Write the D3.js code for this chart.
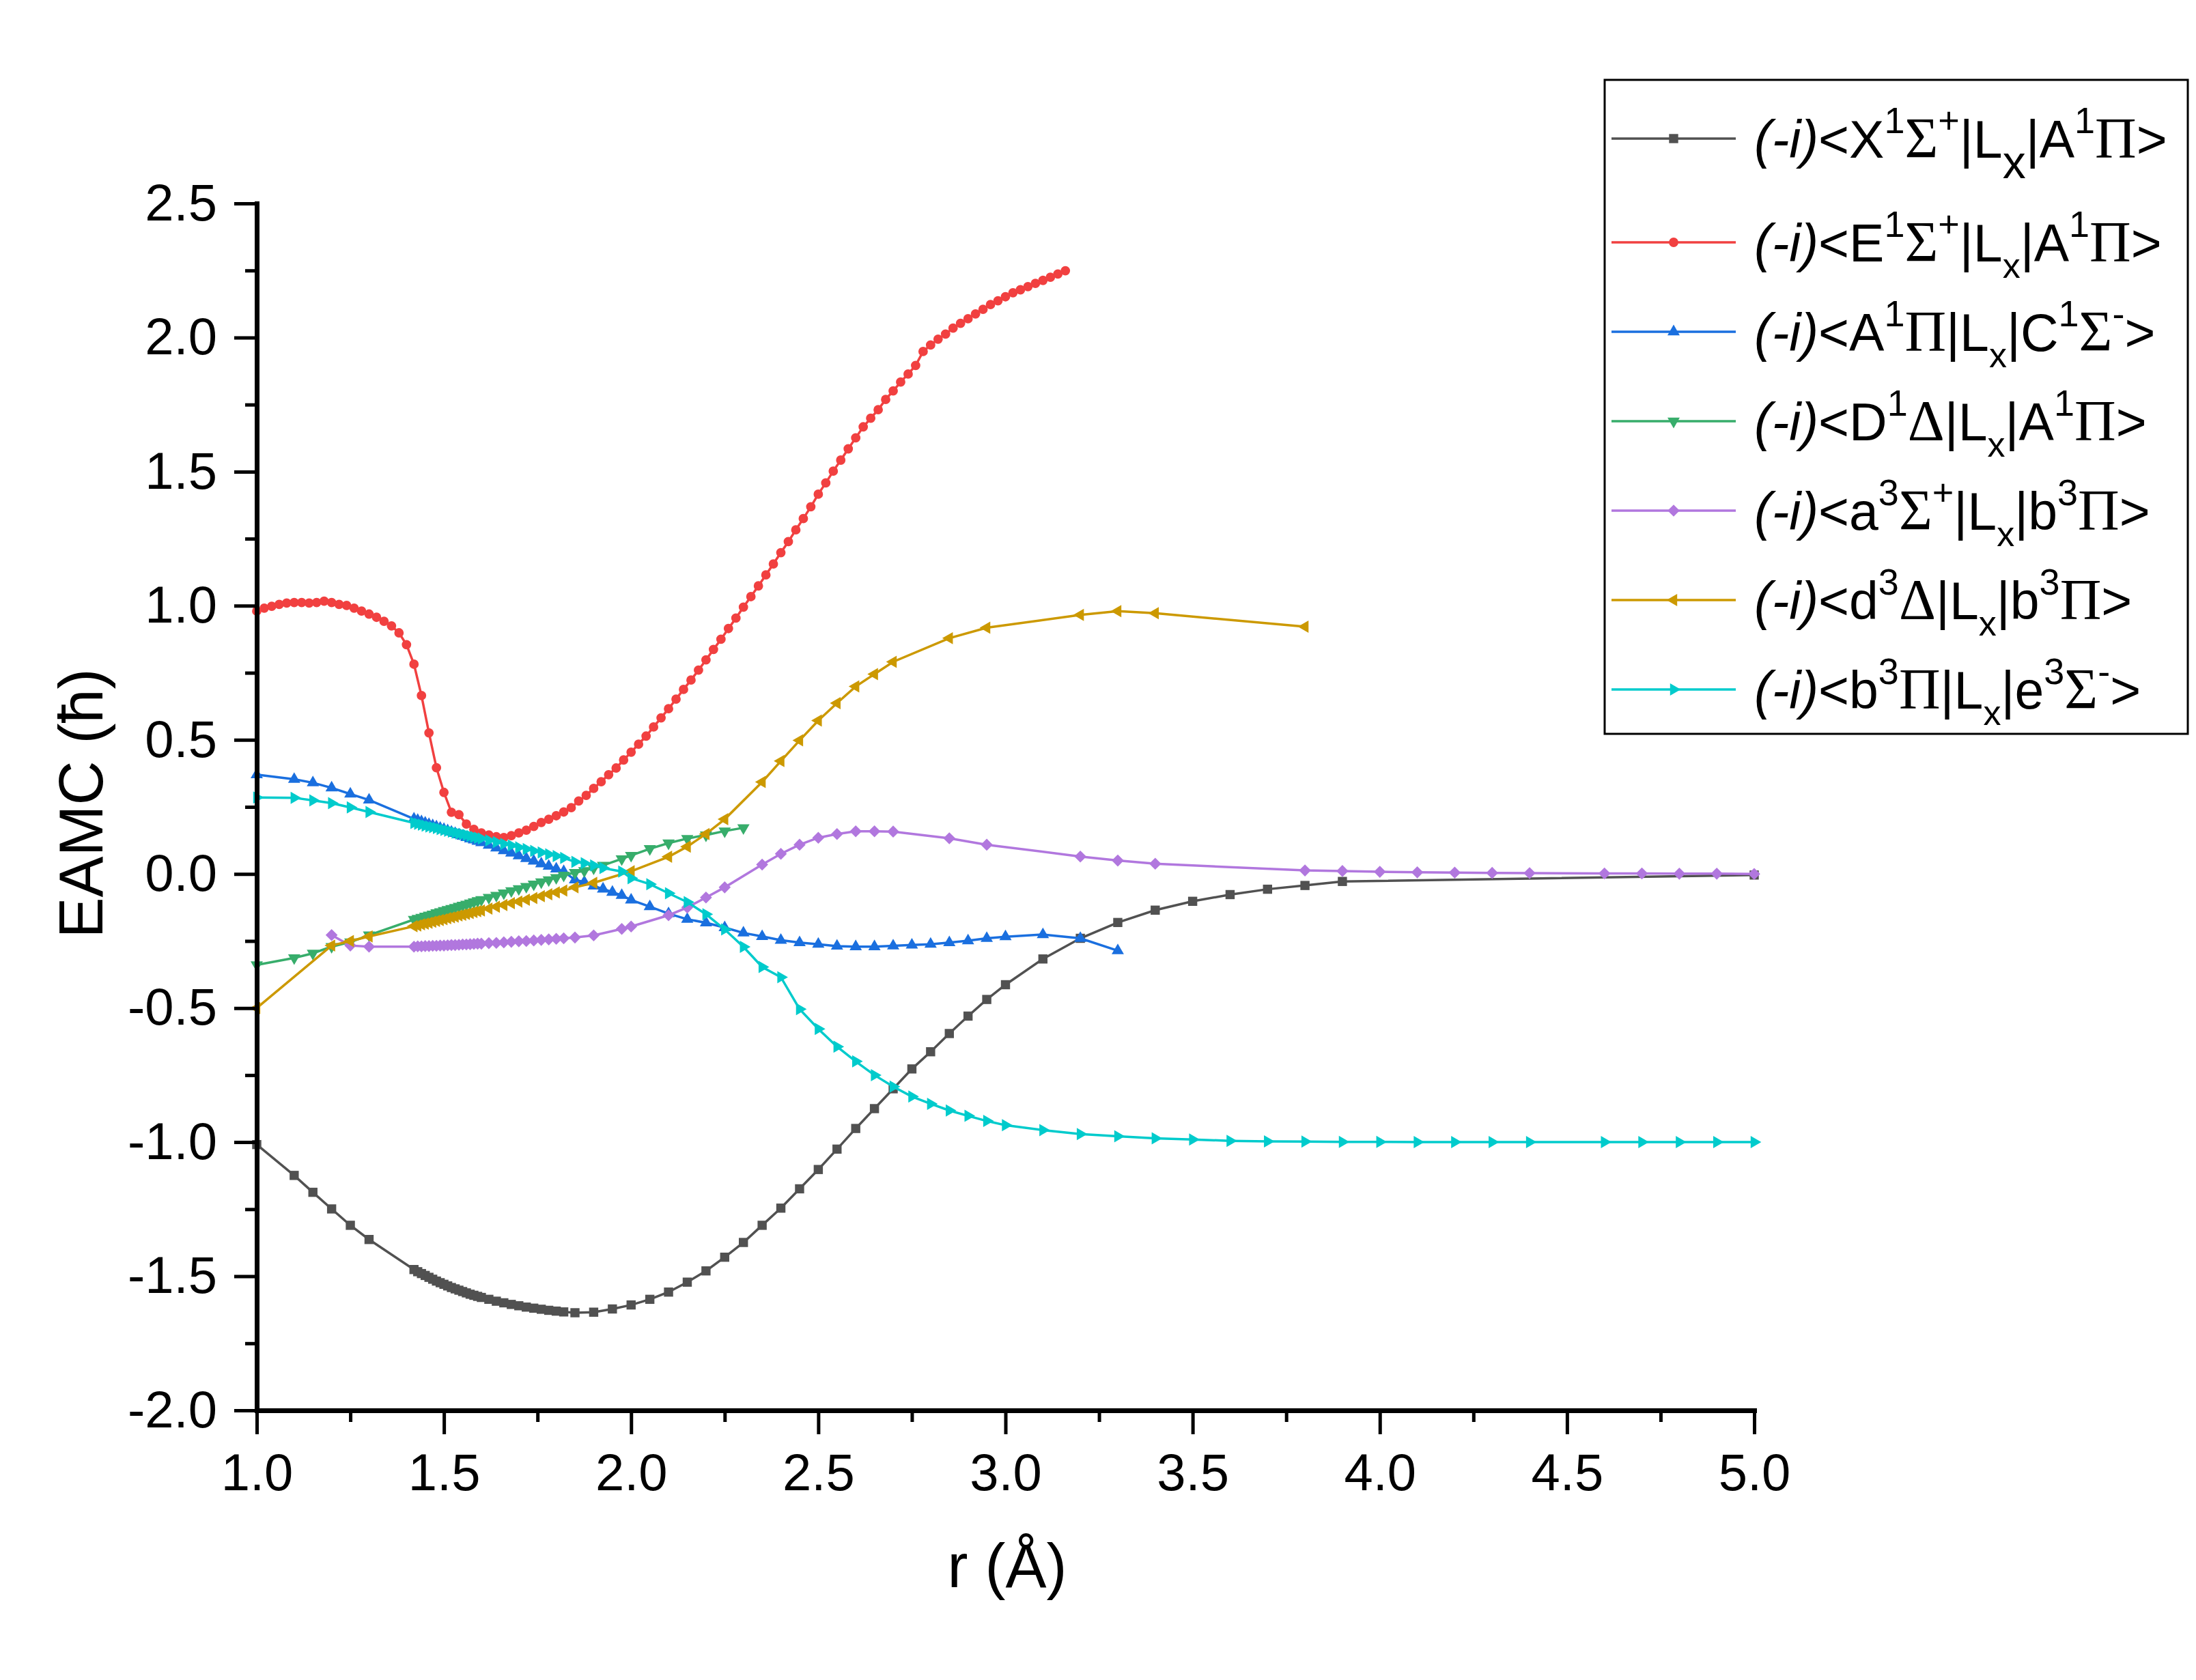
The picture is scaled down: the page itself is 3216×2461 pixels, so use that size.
<!DOCTYPE html>
<html>
<head>
<meta charset="utf-8">
<script src="https://cdn.jsdelivr.net/npm/d3@7"></script>
<style>
  body { margin: 0; background: #fff; }
  text { font-family: "Liberation Sans", Arial, sans-serif; }
</style>
</head>
<body>
<div id="chart"></div>
<script>
// ---- data (r in Angstrom, EAMC in hbar) ----

// common fine grid used by most curves around the crossing region
const rDense = [1.42, 1.43, 1.44, 1.45, 1.46, 1.47, 1.48, 1.49, 1.50, 1.51, 1.52, 1.53, 1.54, 1.55, 1.56,
  1.57, 1.58, 1.59, 1.60, 1.62, 1.64, 1.66, 1.68, 1.70, 1.72, 1.74, 1.76, 1.78, 1.80, 1.82];

// (-i)<X1S+|Lx|A1P>
const rX = [1.0, 1.1, 1.15, 1.2, 1.25, 1.3, ...rDense,
  1.85, 1.90, 1.95, 2.0, 2.05, 2.1, 2.15, 2.2, 2.25, 2.3, 2.35, 2.4, 2.45, 2.5, 2.55, 2.6, 2.65, 2.7, 2.75, 2.8,
  2.85, 2.9, 2.95, 3.0, 3.1, 3.2, 3.3, 3.4, 3.5, 3.6, 3.7, 3.8, 3.9, 5.0];
const vX = [-1.009, -1.124, -1.187, -1.249, -1.310, -1.363,
  -1.475, -1.483, -1.490, -1.497, -1.504, -1.511, -1.518, -1.524, -1.530, -1.536, -1.542, -1.547, -1.552, -1.557,
  -1.562, -1.567, -1.571, -1.575, -1.579, -1.586, -1.593, -1.599, -1.605, -1.610, -1.615, -1.619, -1.623, -1.627,
  -1.630, -1.633,
  -1.636, -1.634, -1.622, -1.607, -1.586, -1.559, -1.522, -1.480, -1.429, -1.374, -1.310, -1.246, -1.174, -1.102,
  -1.026, -0.949, -0.875, -0.801, -0.727, -0.663, -0.595, -0.530, -0.468, -0.413,
  -0.317, -0.240, -0.181, -0.135, -0.102, -0.077, -0.057, -0.043, -0.028, -0.004];

// (-i)<E1S+|Lx|A1P>
const rE = [1.00, 1.02, 1.04, 1.06, 1.08, 1.10, 1.12, 1.14, 1.16, 1.18,
  1.20, 1.22, 1.24, 1.26, 1.28, 1.30, 1.32, 1.34, 1.36, 1.38,
  1.40, 1.42, 1.44, 1.46, 1.48, 1.50, 1.52, 1.54, 1.56, 1.58,
  1.60, 1.62, 1.64, 1.66, 1.68, 1.70, 1.72, 1.74, 1.76, 1.78,
  1.80, 1.82, 1.84, 1.86, 1.88, 1.90, 1.92, 1.94, 1.96, 1.98,
  2.00, 2.02, 2.04, 2.06, 2.08, 2.10, 2.12, 2.14, 2.16, 2.18,
  2.20, 2.22, 2.24, 2.26, 2.28, 2.30, 2.32, 2.34, 2.36, 2.38,
  2.40, 2.42, 2.44, 2.46, 2.48, 2.50, 2.52, 2.54, 2.56, 2.58,
  2.60, 2.62, 2.64, 2.66, 2.68, 2.70, 2.72, 2.74, 2.76, 2.78,
  2.80, 2.82, 2.84, 2.86, 2.88, 2.90, 2.92, 2.94, 2.96, 2.98,
  3.00, 3.02, 3.04, 3.06, 3.08, 3.10, 3.12, 3.14, 3.16];
const vE = [0.980, 0.991, 0.998, 1.005, 1.010, 1.012, 1.012, 1.010, 1.012, 1.017,
  1.012, 1.005, 1.001, 0.991, 0.980, 0.969, 0.957, 0.942, 0.925, 0.899,
  0.855, 0.782, 0.665, 0.526, 0.396, 0.304, 0.230, 0.221, 0.186, 0.166,
  0.153, 0.145, 0.139, 0.136, 0.143, 0.153, 0.163, 0.177, 0.192, 0.204,
  0.217, 0.231, 0.247, 0.272, 0.293, 0.319, 0.344, 0.370, 0.395, 0.425,
  0.454, 0.484, 0.514, 0.548, 0.582, 0.616, 0.652, 0.688, 0.723, 0.760,
  0.798, 0.837, 0.875, 0.915, 0.954, 0.995, 1.034, 1.074, 1.115, 1.156,
  1.198, 1.239, 1.283, 1.325, 1.369, 1.416, 1.458, 1.502, 1.543, 1.585,
  1.626, 1.667, 1.699, 1.731, 1.769, 1.801, 1.834, 1.864, 1.896, 1.948,
  1.972, 1.994, 2.013, 2.035, 2.053, 2.070, 2.088, 2.105, 2.123, 2.137,
  2.152, 2.167, 2.178, 2.190, 2.202, 2.213, 2.225, 2.237, 2.249];

// (-i)<A1P|Lx|C1S->
const rAC = [1.0, 1.1, 1.15, 1.2, 1.25, 1.3, ...rDense,
  1.85, 1.875, 1.90, 1.925, 1.95, 1.975, 2.0, 2.05, 2.1, 2.15, 2.2, 2.25, 2.3, 2.35, 2.4, 2.45, 2.5, 2.55,
  2.6, 2.65, 2.7, 2.75, 2.8, 2.85, 2.9, 2.95, 3.0, 3.1, 3.2, 3.3];
const vAC = [0.370, 0.353, 0.340, 0.321, 0.298, 0.276,
  0.205, 0.200, 0.195, 0.190, 0.185, 0.180, 0.176, 0.171, 0.166, 0.161, 0.156, 0.151, 0.146, 0.141,
  0.136, 0.131, 0.127, 0.122, 0.117, 0.107, 0.097, 0.087, 0.078, 0.068, 0.058, 0.048, 0.038, 0.029,
  0.019, 0.009,
  -0.022, -0.030, -0.045, -0.056, -0.068, -0.080, -0.097, -0.122, -0.148, -0.169, -0.182, -0.200, -0.220,
  -0.233, -0.247, -0.256, -0.262, -0.269, -0.271, -0.271, -0.268, -0.265, -0.262, -0.256, -0.249, -0.240,
  -0.234, -0.226, -0.240, -0.286];

// (-i)<D1D|Lx|A1P>
const rDA = [1.0, 1.1, 1.15, 1.2, 1.25, 1.3, ...rDense,
  1.85, 1.875, 1.90, 1.925, 1.975, 2.0, 2.05, 2.1, 2.15, 2.2, 2.25, 2.3];
const vDA = [-0.339, -0.313, -0.296, -0.271, -0.254, -0.228,
  -0.170, -0.166, -0.162, -0.158, -0.154, -0.150, -0.145, -0.141, -0.137, -0.133, -0.129, -0.125, -0.121,
  -0.117, -0.113, -0.109, -0.104, -0.100, -0.096, -0.088, -0.080, -0.071, -0.063, -0.055, -0.047, -0.038,
  -0.030, -0.022, -0.014, -0.005,
  0.005, 0.012, 0.022, 0.032, 0.056, 0.069, 0.094, 0.115, 0.132, 0.145, 0.160, 0.172];

// (-i)<a3S+|Lx|b3P>
const rab = [1.2, 1.25, 1.3, ...rDense,
  1.85, 1.90, 1.975, 2.0, 2.1, 2.15, 2.2, 2.25, 2.35, 2.4, 2.45, 2.5, 2.55, 2.6, 2.65, 2.7,
  2.85, 2.95, 3.2, 3.3, 3.4, 3.8, 3.9, 4.0, 4.1, 4.2, 4.3, 4.4, 4.6, 4.7, 4.8, 4.9, 5.0];
const vab = [-0.228, -0.267, -0.271,
  -0.271, -0.270, -0.270, -0.269, -0.269, -0.268, -0.268, -0.267, -0.267, -0.266, -0.265, -0.265, -0.264,
  -0.263, -0.263, -0.262, -0.261, -0.260, -0.260, -0.258, -0.257, -0.255, -0.253, -0.251, -0.250, -0.248,
  -0.246, -0.244, -0.242, -0.240,
  -0.237, -0.229, -0.205, -0.196, -0.154, -0.125, -0.088, -0.050, 0.035, 0.075, 0.109, 0.135, 0.149, 0.159,
  0.159, 0.158, 0.133, 0.109, 0.065, 0.050, 0.038, 0.013, 0.011, 0.008, 0.006, 0.005, 0.004, 0.003,
  0.002, 0.002, 0.001, 0.001, 0.000];

// (-i)<d3D|Lx|b3P>
const rdb = [1.0, 1.2, 1.25, 1.3, ...rDense,
  1.85, 1.90, 2.0, 2.1, 2.15, 2.2, 2.25, 2.35, 2.4, 2.45, 2.5, 2.55, 2.6, 2.65, 2.7, 2.85, 2.95, 3.2, 3.3, 3.4, 3.8];
const vdb = [-0.500, -0.267, -0.250, -0.233,
  -0.195, -0.192, -0.188, -0.185, -0.182, -0.178, -0.175, -0.172, -0.169, -0.165, -0.162, -0.159, -0.155,
  -0.152, -0.149, -0.146, -0.142, -0.139, -0.136, -0.129, -0.122, -0.116, -0.109, -0.103, -0.096, -0.090,
  -0.083, -0.076, -0.069, -0.062,
  -0.050, -0.033, 0.010, 0.064, 0.102, 0.149, 0.204, 0.343, 0.421, 0.498, 0.572, 0.637, 0.699, 0.745,
  0.791, 0.879, 0.918, 0.966, 0.980, 0.972, 0.922];

// (-i)<b3P|Lx|e3S->
const rbe = [1.0, 1.1, 1.15, 1.2, 1.25, 1.3, ...rDense,
  1.85, 1.875, 1.90, 1.925, 1.975, 2.0, 2.05, 2.1, 2.15, 2.2, 2.25, 2.3, 2.35, 2.4, 2.45, 2.5, 2.55, 2.6,
  2.65, 2.7, 2.75, 2.8, 2.85, 2.9, 2.95, 3.0, 3.1, 3.2, 3.3, 3.4, 3.5, 3.6, 3.7, 3.8, 3.9, 4.0, 4.1, 4.2,
  4.3, 4.4, 4.6, 4.7, 4.8, 4.9, 5.0];
const vbe = [0.285, 0.284, 0.274, 0.264, 0.248, 0.231,
  0.190, 0.187, 0.184, 0.180, 0.177, 0.174, 0.171, 0.167, 0.164, 0.161, 0.158, 0.154, 0.151, 0.148,
  0.145, 0.141, 0.138, 0.135, 0.132, 0.125, 0.119, 0.112, 0.106, 0.099, 0.093, 0.086, 0.080, 0.073,
  0.067, 0.060,
  0.045, 0.040, 0.032, 0.022, 0.009, -0.016, -0.038, -0.072, -0.105, -0.150, -0.207, -0.272, -0.347,
  -0.385, -0.504, -0.578, -0.644, -0.699, -0.750, -0.793, -0.830, -0.857, -0.882, -0.902, -0.921, -0.937,
  -0.955, -0.970, -0.978, -0.986, -0.990, -0.995, -0.997, -0.998, -0.999, -0.999, -1.000, -1.000, -1.000,
  -1.000, -1.000, -1.000, -1.000, -1.000, -1.000];

// axis ticks
const xMajor = [1.0, 1.5, 2.0, 2.5, 3.0, 3.5, 4.0, 4.5, 5.0];
const xMinor = [1.25, 1.75, 2.25, 2.75, 3.25, 3.75, 4.25, 4.75];
const yMajor = [-2.0, -1.5, -1.0, -0.5, 0.0, 0.5, 1.0, 1.5, 2.0, 2.5];
const yMinor = [-1.75, -1.25, -0.75, -0.25, 0.25, 0.75, 1.25, 1.75, 2.25];

// legend text pieces: [text, kind]
const legendLabels = [
  [["(-i)", "it"], ["<X"], ["1", "sup"], ["Σ", "sym"], ["+", "sup"], ["|L"], ["x", "subBig"], ["|A"], ["1", "sup"], ["Π", "sym"], [">"]],
  [["(-i)", "it"], ["<E"], ["1", "sup"], ["Σ", "sym"], ["+", "sup"], ["|L"], ["x", "sub"], ["|A"], ["1", "sup"], ["Π", "sym"], [">"]],
  [["(-i)", "it"], ["<A"], ["1", "sup"], ["Π", "sym"], ["|L"], ["x", "sub"], ["|C"], ["1", "sup"], ["Σ", "sym"], ["-", "sup"], [">"]],
  [["(-i)", "it"], ["<D"], ["1", "sup"], ["Δ", "sym"], ["|L"], ["x", "sub"], ["|A"], ["1", "sup"], ["Π", "sym"], [">"]],
  [["(-i)", "it"], ["<a"], ["3", "sup"], ["Σ", "sym"], ["+", "sup"], ["|L"], ["x", "sub"], ["|b"], ["3", "sup"], ["Π", "sym"], [">"]],
  [["(-i)", "it"], ["<d"], ["3", "sup"], ["Δ", "sym"], ["|L"], ["x", "sub"], ["|b"], ["3", "sup"], ["Π", "sym"], [">"]],
  [["(-i)", "it"], ["<b"], ["3", "sup"], ["Π", "sym"], ["|L"], ["x", "sub"], ["|e"], ["3", "sup"], ["Σ", "sym"], ["-", "sup"], [">"]]
];

const series = [
  {r: rX, v: vX, color: "#515151", shape: "square"},
  {r: rE, v: vE, color: "#F14040", shape: "circle"},
  {r: rAC, v: vAC, color: "#1A6FDF", shape: "up"},
  {r: rDA, v: vDA, color: "#37AD6B", shape: "down"},
  {r: rab, v: vab, color: "#B177DE", shape: "diamond"},
  {r: rdb, v: vdb, color: "#CC9900", shape: "left"},
  {r: rbe, v: vbe, color: "#00CBCC", shape: "right"}
];

// ---- drawing ----
const width = 3216, height = 2461;

const svg = d3.select("#chart").append("svg")
  .attr("width", width)
  .attr("height", height);

svg.append("rect").attr("width", width).attr("height", height).attr("fill", "#fff");

const x = d3.scaleLinear().domain([1, 5]).range([376, 2569]);
const y = d3.scaleLinear().domain([-2, 2.5]).range([2066, 298]);

const shapes = {
  square: [d3.symbolSquare, 180, 0],
  circle: [d3.symbolCircle, 150, 0],
  up: [d3.symbolTriangle, 140, 0],
  down: [d3.symbolTriangle, 140, 180],
  diamond: [d3.symbolSquare, 155, 45],
  left: [d3.symbolTriangle, 140, -90],
  right: [d3.symbolTriangle, 140, 90]
};

function drawMarker(g, shape, color, px, py) {
  let s = shapes[shape];
  g.append("path")
    .attr("d", d3.symbol().type(s[0]).size(s[1])())
    .attr("transform", "translate(" + px + "," + py + ") rotate(" + s[2] + ")")
    .attr("fill", color);
}

// curves, in plotting order
let line = d3.line().x(d => x(d[0])).y(d => y(d[1]));
series.forEach(s => {
  let pts = s.r.map((r, i) => [r, s.v[i]]);
  let g = svg.append("g");
  g.append("path")
    .attr("d", line(pts))
    .attr("fill", "none")
    .attr("stroke", s.color)
    .attr("stroke-width", 3.5);
  pts.forEach(p => drawMarker(g, s.shape, s.color, x(p[0]), y(p[1])));
});

// axes
const fmt = d => d.toFixed(1);

function styleAxis(g, fontSize) {
  g.attr("font-family", "'Liberation Sans', Arial, sans-serif").attr("font-size", fontSize);
  g.selectAll(".tick line").attr("stroke", "#000").attr("stroke-width", 5);
  g.selectAll(".domain").attr("stroke", "#000").attr("stroke-width", 7).attr("stroke-linecap", "square");
  g.selectAll("text").attr("fill", "#000");
}

let yMinorG = svg.append("g").attr("transform", "translate(376,0)")
  .call(d3.axisLeft(y).tickValues(yMinor).tickSize(17).tickFormat(""));
yMinorG.select(".domain").remove();
styleAxis(yMinorG, 76);

let yAxisG = svg.append("g").attr("transform", "translate(376,0)")
  .call(d3.axisLeft(y).tickValues(yMajor).tickSize(33).tickSizeOuter(0).tickPadding(25).tickFormat(fmt));
styleAxis(yAxisG, 76);

let xMinorG = svg.append("g").attr("transform", "translate(0,2066)")
  .call(d3.axisBottom(x).tickValues(xMinor).tickSize(17).tickFormat(""));
xMinorG.select(".domain").remove();
styleAxis(xMinorG, 76);

let xAxisG = svg.append("g").attr("transform", "translate(0,2066)")
  .call(d3.axisBottom(x).tickValues(xMajor).tickSize(35).tickSizeOuter(0).tickPadding(28).tickFormat(fmt));
styleAxis(xAxisG, 76);

// axis titles
svg.append("text")
  .attr("x", 1475)
  .attr("y", 2325)
  .attr("text-anchor", "middle")
  .attr("font-size", 90)
  .text("r (Å)");

svg.append("text")
  .attr("transform", "translate(150,1177) rotate(-90)")
  .attr("text-anchor", "middle")
  .attr("font-size", 90)
  .text("EAMC (ħ)");

// legend
let legend = svg.append("g");
legend.append("rect")
  .attr("x", 2350).attr("y", 117)
  .attr("width", 854).attr("height", 958)
  .attr("fill", "#fff")
  .attr("stroke", "#000")
  .attr("stroke-width", 3);

series.forEach((s, i) => {
  let rowY = i === 0 ? 203 : 355 + 131 * (i - 1);
  legend.append("line")
    .attr("x1", 2360).attr("x2", 2542)
    .attr("y1", rowY).attr("y2", rowY)
    .attr("stroke", s.color)
    .attr("stroke-width", 3.5);
  drawMarker(legend, s.shape, s.color, 2451, rowY);

  let t = legend.append("text")
    .attr("x", 2569)
    .attr("y", rowY + 28)
    .attr("font-size", 77)
    .attr("fill", "#000");
  let shift = 0;
  legendLabels[i].forEach(seg => {
    let kind = seg[1];
    let ts = t.append("tspan").text(seg[0]);
    let target = 0;
    if (kind === "sup") { ts.attr("font-size", 54); target = -36; }
    else if (kind === "sub") { ts.attr("font-size", 52); target = 24; }
    else if (kind === "subBig") { ts.attr("font-size", 68); target = 30; }
    else if (kind === "it") ts.attr("font-style", "italic");
    else if (kind === "sym") ts.attr("font-family", "'Liberation Serif', 'Times New Roman', serif").attr("font-size", 84);
    if (target !== shift) ts.attr("dy", target - shift);
    shift = target;
  });
});
</script>
</body>
</html>
